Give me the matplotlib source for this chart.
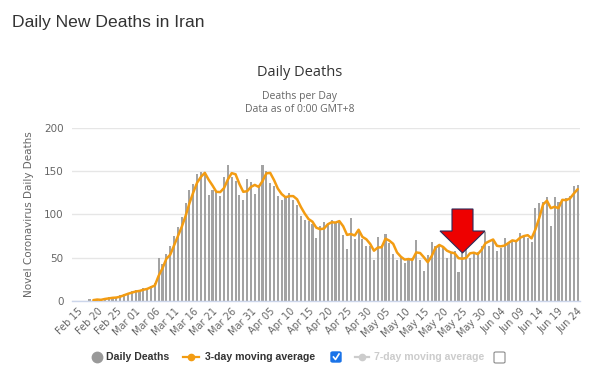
import matplotlib
matplotlib.use("Agg")
import matplotlib.pyplot as plt
from matplotlib.patches import Polygon, FancyBboxPatch
from matplotlib.lines import Line2D
import numpy as np
import pandas as pd

# ---------------- data ----------------
start_date = "2020-02-15"
daily_deaths = [
    0, 0, 0, 2, 0, 2, 1, 3, 4, 3, 4, 7, 8, 9, 11, 12, 11, 15, 15, 17, 21,
    49, 43, 54, 63, 75, 85, 97, 113, 129, 135, 147, 149, 149, 123, 129, 127,
    122, 143, 157, 144, 139, 123, 117, 141, 138, 124, 134, 158, 151, 136, 133,
    121, 117, 122, 125, 117, 111, 98, 94, 92, 89, 73, 87, 91, 88, 94, 90, 93,
    76, 60, 96, 71, 80, 71, 63, 64, 47, 74, 65, 77, 67, 54, 47, 52, 44, 49,
    49, 70, 47, 34, 53, 68, 63, 63, 61, 50, 57, 58, 33, 55, 61, 49, 57, 56,
    64, 80, 63, 70, 58, 61, 73, 67, 70, 70, 79, 76, 73, 68, 107, 113, 115,
    120, 87, 120, 115, 116, 119, 121, 133, 134,
]
ma_window = 3
ma_start = 4
y_ticks = [0, 50, 100, 150, 200]

dates = pd.date_range(start_date, periods=len(daily_deaths), freq="D")
labels = [d.strftime("%b %d") for d in dates]
x = np.arange(len(daily_deaths))
ma = pd.Series(daily_deaths, dtype=float).rolling(ma_window).mean()
ma[:ma_start] = np.nan

# ---------------- figure ----------------
W, H = 590, 378
fig = plt.figure(figsize=(W / 100, H / 100), dpi=100)
fig.patch.set_facecolor("white")

def fx(px):
    return px / W

def fy(py):
    return 1 - py / H

ax = fig.add_axes([fx(72), fy(300.7), fx(580) - fx(72), fy(128.3) - fy(300.7)])
ax.set_facecolor("white")

ax.bar(x, daily_deaths, width=0.55, color="#a3a3a3", zorder=2)
ax.plot(x, ma, color="#f39c12", lw=1.8, zorder=3, solid_joinstyle="round",
        solid_capstyle="round")

ax.set_ylim(0, 200)
ax.set_xlim(-1.55, 130.6)
ax.set_yticks(y_ticks)
ax.set_yticklabels([str(v) for v in y_ticks], color="#666666", fontsize=7.5,
                   family="DejaVu Sans")
ax.yaxis.grid(True, color="#e6e6e6", lw=1, zorder=0)
ax.set_axisbelow(True)
ax.tick_params(axis="y", length=0, pad=6)

tick_pos = x[::5]
ax.set_xticks(tick_pos)
ax.set_xticklabels([labels[i] for i in tick_pos], rotation=45, ha="right",
                   rotation_mode="anchor", color="#666666", fontsize=7,
                   family="DejaVu Sans")
ax.tick_params(axis="x", length=0, pad=4)

for s in ["top", "right", "left"]:
    ax.spines[s].set_visible(False)
ax.spines["bottom"].set_color("#ccd6eb")
ax.spines["bottom"].set_linewidth(1)

ax.set_ylabel("Novel Coronavirus Daily Deaths", color="#666666", fontsize=7.5,
              family="DejaVu Sans", labelpad=7)

# ---------------- titles ----------------
fig.text(fx(12), fy(22), "Daily New Deaths in Iran", fontsize=12.6,
         color="#333333", family="Liberation Sans", va="center", ha="left")
fig.text(fx(300), fy(72), "Daily Deaths", fontsize=10.5, color="#333333",
         family="Open Sans", va="center", ha="center")
fig.text(fx(300), fy(96), "Deaths per Day", fontsize=7.5, color="#666666",
         family="Open Sans", va="center", ha="center")
fig.text(fx(300), fy(109), "Data as of 0:00 GMT+8", fontsize=7.5,
         color="#666666", family="Open Sans", va="center", ha="center")

# ---------------- legend ----------------
ly = fy(357)
lfont = dict(fontsize=7.6, fontweight="bold", family="Liberation Sans",
             va="center", ha="left")
fig.add_artist(Line2D([fx(97)], [ly], marker="o", markersize=7.5,
                      color="#999999", transform=fig.transFigure))
fig.text(fx(106), ly, "Daily Deaths", color="#333333", **lfont)
fig.add_artist(Line2D([fx(183), fx(199)], [ly, ly], color="#f39c12", lw=1.6,
                      transform=fig.transFigure))
fig.add_artist(Line2D([fx(191)], [ly], marker="o", markersize=4.5,
                      color="#f39c12", transform=fig.transFigure))
fig.text(fx(205), ly, "3-day moving average", color="#333333", **lfont)
# checked box
fig.add_artist(FancyBboxPatch((fx(331), fy(362)), fx(10), fy(352) - fy(362),
                              boxstyle="round,pad=0,rounding_size=0.003",
                              facecolor="#1a73e8", edgecolor="#1a73e8",
                              transform=fig.transFigure))
fig.add_artist(Line2D([fx(333.5), fx(335.5), fx(339)], [fy(357), fy(359.5), fy(354)],
                      color="white", lw=1.2, transform=fig.transFigure))
fig.add_artist(Line2D([fx(355), fx(369)], [ly, ly], color="#cccccc", lw=1.6,
                      transform=fig.transFigure))
fig.add_artist(Line2D([fx(362)], [ly], marker="o", markersize=4.5,
                      color="#cccccc", transform=fig.transFigure))
fig.text(fx(374), ly, "7-day moving average", color="#cccccc", **lfont)
fig.add_artist(FancyBboxPatch((fx(494), fy(363)), fx(11), fy(352) - fy(363),
                              boxstyle="round,pad=0,rounding_size=0.003",
                              facecolor="white", edgecolor="#8a8a8a", lw=0.8,
                              transform=fig.transFigure))

# ---------------- red arrow annotation ----------------
arrow_px = [(452, 209), (473, 209), (473, 231), (485, 231), (462.5, 253),
            (440, 231), (452, 231)]
fig.add_artist(Polygon([(fx(a), fy(b)) for a, b in arrow_px], closed=True,
                       facecolor="#ee0000", edgecolor="#2b2b5a", lw=0.8,
                       transform=fig.transFigure, zorder=10))

fig.savefig("out.png", dpi=100, facecolor="white")
